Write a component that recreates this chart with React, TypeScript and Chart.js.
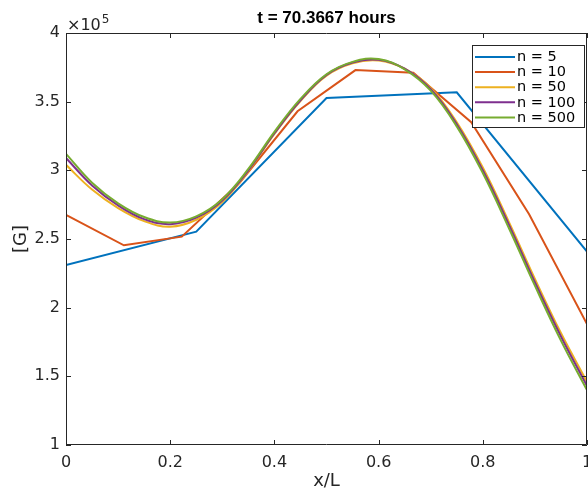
import React, { useEffect, useRef } from 'react';
import { Chart, registerables } from 'chart.js';

Chart.register(...registerables);

const titleText = 't = 70.3667 hours';
const xTitle = 'x/L';
const yTitle = '[G]';
const exponentBase = '\u00D710';
const exponentPower = '5';

const seriesLabels = ['n = 5', 'n = 10', 'n = 50', 'n = 100', 'n = 500'];
const seriesColors = ['#0072BD', '#D95319', '#EDB120', '#7E2F8E', '#77AC30'];

const xN5 = [0, 0.25, 0.5, 0.75, 1];
const yN5 = [2.311e5, 2.553e5, 3.527e5, 3.568e5, 2.408e5];

const xN10 = [0, 0.1111, 0.2222, 0.3333, 0.4444, 0.5556, 0.6667, 0.7778, 0.8889, 1];
const yN10 = [2.675e5, 2.454e5, 2.517e5, 2.91e5, 3.43e5, 3.73e5, 3.71e5, 3.35e5, 2.68e5, 1.88e5];

const xSmooth = [0, 0.05, 0.1, 0.15, 0.2, 0.25, 0.3, 0.35, 0.4, 0.45, 0.5, 0.55, 0.6, 0.65, 0.7, 0.75, 0.8, 0.85, 0.9, 0.95, 1];
const yN50 = [3.04e5, 2.86e5, 2.725e5, 2.63e5, 2.59e5, 2.64e5, 2.77e5, 2.995e5, 3.265e5, 3.505e5, 3.69e5, 3.78e5, 3.8e5, 3.74e5, 3.6e5, 3.35e5, 3.02e5, 2.625e5, 2.21e5, 1.815e5, 1.46e5];
const yN100 = [3.09e5, 2.89e5, 2.745e5, 2.645e5, 2.608e5, 2.655e5, 2.78e5, 3.0e5, 3.27e5, 3.51e5, 3.695e5, 3.785e5, 3.805e5, 3.74e5, 3.59e5, 3.335e5, 3.0e5, 2.605e5, 2.185e5, 1.79e5, 1.43e5];
const yN500 = [3.12e5, 2.91e5, 2.76e5, 2.66e5, 2.62e5, 2.665e5, 2.79e5, 3.01e5, 3.28e5, 3.52e5, 3.7e5, 3.79e5, 3.81e5, 3.735e5, 3.58e5, 3.32e5, 2.98e5, 2.58e5, 2.16e5, 1.76e5, 1.4e5];

const xTicks = [0, 0.2, 0.4, 0.6, 0.8, 1];
const yTicks = [1e5, 1.5e5, 2e5, 2.5e5, 3e5, 3.5e5, 4e5];

const FONT = "'DejaVu Sans', sans-serif";
const TITLE_FONT = "'Liberation Sans', Arial, sans-serif";
const AXIS_COLOR = '#262626';

const toPoints = (xs: number[], ys: number[]) => xs.map((x, i) => ({ x, y: ys[i] }));

const framePlugin = {
  id: 'matlabFrame',
  afterDraw(chart: any) {
    const { ctx, chartArea, scales } = chart;
    const { left, right, top, bottom } = chartArea;
    const xs = scales.x;
    const ys = scales.y;
    ctx.save();
    ctx.strokeStyle = AXIS_COLOR;
    ctx.lineWidth = 1;
    ctx.beginPath();
    ctx.rect(left + 0.5, top + 0.5, right - left - 1, bottom - top - 1);
    ctx.stroke();
    const tl = 5;
    ctx.beginPath();
    xTicks.forEach((v) => {
      const px = Math.round(xs.getPixelForValue(v)) + 0.5;
      ctx.moveTo(px, bottom);
      ctx.lineTo(px, bottom - tl);
      ctx.moveTo(px, top);
      ctx.lineTo(px, top + tl);
    });
    yTicks.forEach((v) => {
      const py = Math.round(ys.getPixelForValue(v)) + 0.5;
      ctx.moveTo(left, py);
      ctx.lineTo(left + tl, py);
      ctx.moveTo(right, py);
      ctx.lineTo(right - tl, py);
    });
    ctx.stroke();

    // title
    ctx.fillStyle = '#000';
    ctx.font = `bold 17px ${TITLE_FONT}`;
    ctx.textAlign = 'center';
    ctx.textBaseline = 'alphabetic';
    ctx.fillText(titleText, (left + right) / 2, 23);

    // exponent
    ctx.fillStyle = AXIS_COLOR;
    ctx.textAlign = 'left';
    ctx.font = `16px ${FONT}`;
    ctx.fillText(exponentBase, left + 1, top - 3);
    const w = ctx.measureText(exponentBase).width;
    ctx.font = `12px ${FONT}`;
    ctx.fillText(exponentPower, left + 1 + w + 1, top - 10);

    // legend
    const lx = 472;
    const ly = 45;
    const lw = 113;
    const lh = 83;
    ctx.fillStyle = '#fff';
    ctx.fillRect(lx, ly, lw, lh);
    ctx.strokeStyle = AXIS_COLOR;
    ctx.lineWidth = 1;
    ctx.strokeRect(lx + 0.5, ly + 0.5, lw - 1, lh - 1);
    ctx.font = `14.5px ${FONT}`;
    ctx.textBaseline = 'middle';
    seriesLabels.forEach((lab, i) => {
      const yy = 57 + i * 15.1;
      ctx.strokeStyle = seriesColors[i];
      ctx.lineWidth = 2;
      ctx.beginPath();
      ctx.moveTo(475, yy);
      ctx.lineTo(515, yy);
      ctx.stroke();
      ctx.fillStyle = '#000';
      ctx.fillText(lab, 517, yy + 0.5);
    });
    ctx.restore();
  },
};

export default function App() {
  const ref = useRef<HTMLCanvasElement | null>(null);
  useEffect(() => {
    if (!ref.current) return;
    const mk = (i: number, data: any[], order: number, smooth: boolean) => ({
      label: seriesLabels[i],
      data,
      borderColor: seriesColors[i],
      backgroundColor: seriesColors[i],
      borderWidth: 2,
      pointRadius: 0,
      fill: false,
      order,
      tension: smooth ? 0.4 : 0,
    });
    const chart = new Chart(ref.current, {
      type: 'line',
      data: {
        datasets: [
          mk(0, toPoints(xN5, yN5), 4, false),
          mk(1, toPoints(xN10, yN10), 3, false),
          mk(2, toPoints(xSmooth, yN50), 2, true),
          mk(3, toPoints(xSmooth, yN100), 1, true),
          mk(4, toPoints(xSmooth, yN500), 0, true),
        ] as any,
      },
      options: {
        animation: false,
        responsive: false,
        devicePixelRatio: 1,
        layout: { padding: { top: 33, right: 1, left: 0, bottom: 0 } },
        plugins: { legend: { display: false }, tooltip: { enabled: false }, title: { display: false } },
        scales: {
          x: {
            type: 'linear',
            min: 0,
            max: 1,
            grid: { display: false, drawTicks: false },
            border: { display: false },
            ticks: {
              stepSize: 0.2,
              padding: 8,
              color: AXIS_COLOR,
              font: { family: FONT, size: 16 },
              maxRotation: 0,
              callback: (v: any) => String(Math.round(Number(v) * 10) / 10),
            },
            title: {
              display: true,
              text: xTitle,
              color: AXIS_COLOR,
              font: { family: FONT, size: 18, lineHeight: 1 },
              padding: { top: 0, bottom: 0 },
            },
            afterFit: (s: any) => {
              s.height = 45;
              s.paddingLeft = 0;
              s.paddingRight = 0;
            },
          },
          y: {
            type: 'linear',
            min: 1e5,
            max: 4e5,
            grid: { display: false, drawTicks: false },
            border: { display: false },
            ticks: {
              stepSize: 5e4,
              padding: 6,
              color: AXIS_COLOR,
              font: { family: FONT, size: 16 },
              callback: (v: any) => String(Math.round(Number(v) / 1e4) / 10),
            },
            title: {
              display: true,
              text: yTitle,
              color: AXIS_COLOR,
              font: { family: FONT, size: 18, lineHeight: 1.2 },
              padding: { top: 11, bottom: 0 },
            },
            afterFit: (s: any) => {
              s.width = 66;
              s.paddingTop = 0;
              s.paddingBottom = 0;
            },
          },
        },
      } as any,
      plugins: [framePlugin],
    });
    return () => chart.destroy();
  }, []);
  return (
    <div style={{ position: 'absolute', left: 0, top: 0, width: 588, height: 490, background: '#fff' }}>
      <canvas ref={ref} width={588} height={490} style={{ display: 'block' }} />
    </div>
  );
}
